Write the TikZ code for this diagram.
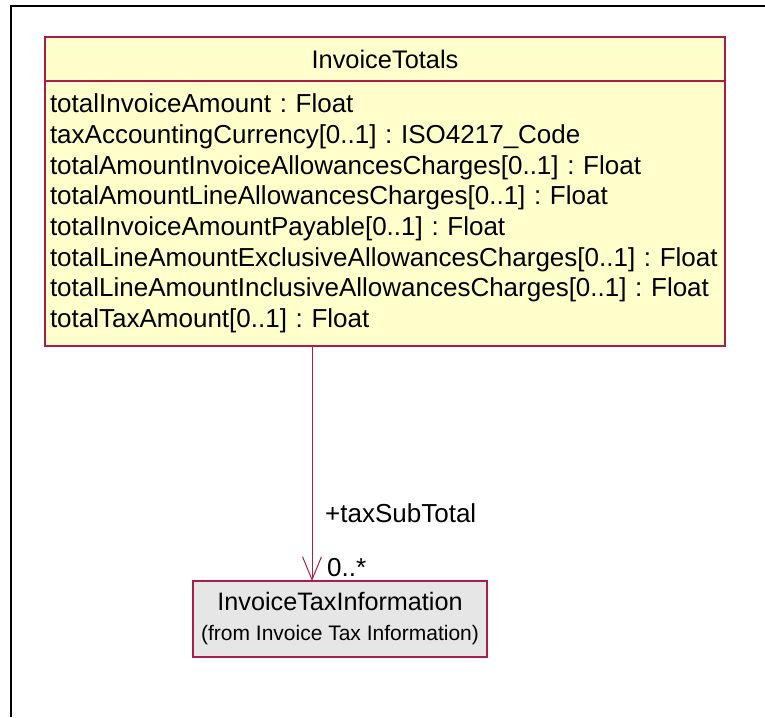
\documentclass[tikz,border=0pt]{standalone}
\usepackage{fontspec}
\setmainfont{Liberation Sans}
\usepackage{tikz}
\usetikzlibrary{positioning}
\usetikzlibrary{arrows.meta}
\definecolor{umlred}{RGB}{172,28,72}
\definecolor{umlyellow}{RGB}{255,255,204}
\definecolor{umlgray}{RGB}{230,230,230}
\frenchspacing
\tikzset{class head/.style={rectangle,draw=umlred,fill=umlyellow,line width=1.2pt,outer sep=0pt,inner sep=0pt,minimum width=680pt,minimum height=44pt,font=\fontsize{25.4}{29}\selectfont},
  class body/.style={rectangle,draw=umlred,fill=umlyellow,line width=1.2pt,outer sep=0pt,inner xsep=5pt,inner ysep=0pt,text width=670pt,minimum height=265pt,align=left,font=\fontsize{26}{30.7}\selectfont},
  ref class/.style={rectangle,draw=umlred,fill=umlgray,line width=1.2pt,outer sep=0pt,inner sep=0pt,minimum width=294pt,minimum height=76pt,align=center,font=\fontsize{25.2}{30}\selectfont},
  role label/.style={inner sep=0pt,font=\fontsize{26}{30}\selectfont},
  assoc/.style={draw=umlred,line width=1pt,-{Straight Barb[length=23pt,width=19pt]}},
  frame line/.style={draw=black,line width=2.5pt},}

\begin{document}
\begin{tikzpicture}[x=1pt,y=-1pt]
    \useasboundingbox (0,0) rectangle (765,717);
    \draw[frame line] (11,717) -- (11,6) -- (765,6);

    \node[class head] (head) at (385,59) {InvoiceTotals};
    \node[class body] (body) [below = 0pt of head] {totalInvoiceAmount : Float\\
        taxAccountingCurrency[0..1] : ISO4217\_Code\\
        totalAmountInvoiceAllowancesCharges[0..1] : Float\\
        totalAmountLineAllowancesCharges[0..1] : Float\\
        totalInvoiceAmountPayable[0..1] : Float\\
        totalLineAmountExclusiveAllowancesCharges[0..1] : Float\\
        totalLineAmountInclusiveAllowancesCharges[0..1] : Float\\
        totalTaxAmount[0..1] : Float};
    \node[ref class] (tax) at (340,619) {InvoiceTaxInformation\\{\fontsize{21}{30}\selectfont (from Invoice Tax Information)}};
    \coordinate (tip) at ([xshift=119pt]tax.north west);

    \path (body.south -| tip) edge[assoc] node {} (tip);
    \node[role label] (role) [above right = 58pt and 13pt of tip] {+taxSubTotal};
    \node[role label] (mult) [above right = 4pt and 15pt of tip] {0..*};
\end{tikzpicture}
\end{document}
